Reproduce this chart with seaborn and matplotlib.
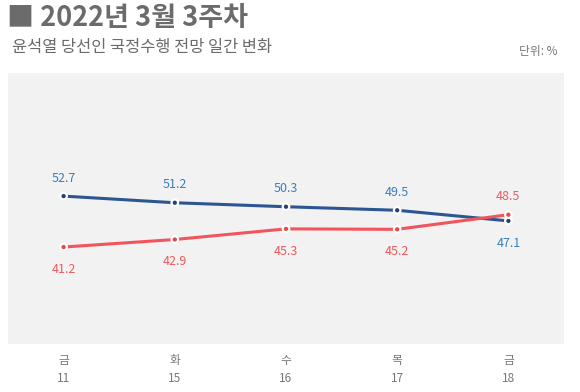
import pandas as pd
import numpy as np
import matplotlib.pyplot as plt
import seaborn as sns

# 데이터
days = ['금', '화', '수', '목', '금']
dates = ['11', '15', '16', '17', '18']
good = [52.7, 51.2, 50.3, 49.5, 47.1]   # 잘할 것
bad = [41.2, 42.9, 45.3, 45.2, 48.5]    # 잘못할 것

sns.set_style('white')
plt.rcParams['font.family'] = ['Noto Sans CJK KR', 'DejaVu Sans']

blue = '#2d5592'
blue_txt = '#3b7dbf'
red = '#f2545b'
red_txt = '#ee5a5f'

df = pd.DataFrame({'x': list(range(len(days))) * 2,
                   'val': good + bad,
                   'series': ['good'] * 5 + ['bad'] * 5})

fig = plt.figure(figsize=(5.8, 3.92), dpi=100)
ax = fig.add_axes([0.0138, 0.1224, 0.9586, 0.6914])
ax.set_facecolor('#f2f2f2')

sns.lineplot(data=df, x='x', y='val', hue='series', palette={'good': blue, 'bad': red},
             linewidth=2.2, legend=False, ax=ax)
sns.scatterplot(data=df, x='x', y='val', hue='series', palette={'good': '#1f3f75', 'bad': '#e8454c'},
                s=22, edgecolor='white', linewidth=1.6, legend=False, ax=ax, zorder=5)

for i, v in enumerate(good):
    off = -16 if i == 4 else 13
    ax.annotate(f'{v}', (i, v), xytext=(0, off), textcoords='offset points',
                ha='center', va='center', fontsize=9, color=blue_txt)
for i, v in enumerate(bad):
    off = 13 if i == 4 else -16
    ax.annotate(f'{v}', (i, v), xytext=(0, off), textcoords='offset points',
                ha='center', va='center', fontsize=9, color=red_txt)

ax.set_xlim(-0.5, 4.5)
ax.set_ylim(19.3, 80.5)
ax.set_xticks(range(len(days)))
ax.set_xticklabels([f'{d}\n{n}' for d, n in zip(days, dates)], fontsize=8.5, color='#777777',
                   linespacing=1.5)
ax.tick_params(axis='x', length=0, pad=7)
ax.set_yticks([])
ax.set_xlabel('')
ax.set_ylabel('')
for s in ax.spines.values():
    s.set_visible(False)

fig.text(0.012, 0.953, '■ 2022년 3월 3주차', fontsize=19.5, fontweight='bold', color='#6b6b6b',
         va='center', ha='left')
fig.text(0.02, 0.878, '윤석열 당선인 국정수행 전망 일간 변화', fontsize=11.8, color='#6b6b6b',
         va='center', ha='left')
fig.text(0.962, 0.868, '단위: %', fontsize=8.5, color='#777777', va='center', ha='right')

plt.savefig('out.png', dpi=100)
